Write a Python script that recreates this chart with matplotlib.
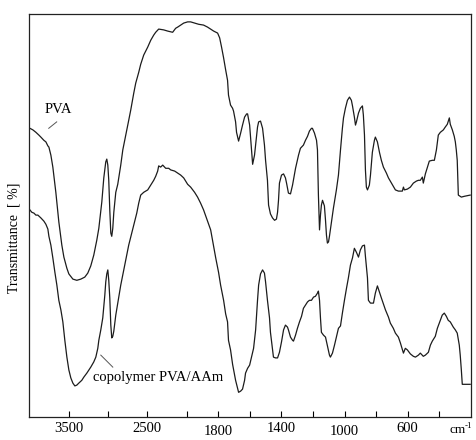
"""
FTIR spectra: PVA vs copolymer PVA/AAm (recreated figure).
"""

import numpy as np
import matplotlib
matplotlib.use("Agg")
import matplotlib.pyplot as plt

plt.rcParams["font.family"] = ["Liberation Serif", "DejaVu Serif"]

# ── data: wavenumber (cm-1) and transmittance (arb. %) ──────────────────────
pva_wn = [3990, 3952, 3914, 3876, 3851, 3813, 3787, 3762, 3749, 3724,
          3699, 3661, 3623, 3585, 3559, 3521, 3496, 3445, 3395, 3344,
          3294, 3256, 3218, 3180, 3142, 3116, 3078, 3053, 3028, 3015,
          3002, 2990, 2977, 2964, 2952, 2939, 2926, 2901, 2876, 2838,
          2812, 2774, 2737, 2711, 2673, 2648, 2610, 2585, 2547, 2496,
          2458, 2420, 2395, 2357, 2294, 2243, 2180, 2142, 2116, 2078,
          2040, 1995, 1976, 1951, 1925, 1894, 1869, 1849, 1830, 1805,
          1792, 1780, 1767, 1754, 1742, 1736, 1723, 1710, 1704, 1691,
          1685, 1672, 1659, 1647, 1634, 1621, 1615, 1602, 1590, 1583,
          1571, 1564, 1552, 1545, 1533, 1520, 1508, 1501, 1489, 1482,
          1470, 1457, 1444, 1432, 1425, 1419, 1413, 1400, 1387, 1375,
          1368, 1356, 1343, 1330, 1311, 1292, 1280, 1261, 1248, 1235,
          1223, 1210, 1204, 1191, 1178, 1172, 1166, 1159, 1153, 1147,
          1140, 1128, 1121, 1115, 1109, 1102, 1096, 1083, 1071, 1052,
          1039, 1026, 1014, 1007, 995, 982, 969, 957, 950, 938,
          931, 925, 912, 900, 887, 881, 874, 868, 862, 855,
          843, 836, 824, 811, 805, 792, 779, 767, 754, 735,
          722, 703, 678, 659, 634, 627, 621, 602, 583, 564,
          545, 532, 520, 507, 501, 488, 475, 463, 444, 431,
          418, 406, 393, 374, 362, 349, 336, 330, 317, 305,
          298, 292, 286, 279, 260, 241, 204]
pva_t = [72.2, 71.8, 71.2, 70.5, 70.0, 69.2, 68.8, 67.8, 67.5, 65.5,
         62.5, 56.2, 48.8, 43.0, 40.0, 37.2, 35.8, 34.5, 34.2, 34.5,
         35.0, 36.0, 37.8, 40.5, 44.2, 47.2, 53.8, 59.8, 63.8, 64.5,
         63.0, 59.2, 51.8, 46.0, 45.2, 47.2, 51.2, 56.2, 58.2, 63.0,
         66.8, 70.5, 74.2, 76.8, 81.0, 83.5, 86.2, 88.2, 90.5, 92.5,
         94.2, 95.5, 96.2, 97.0, 96.8, 96.5, 96.2, 97.2, 97.5, 98.0,
         98.5, 98.8, 98.8, 98.5, 98.2, 98.0, 97.5, 97.0, 96.5, 96.0,
         94.8, 92.5, 89.8, 86.8, 84.2, 80.5, 78.0, 77.2, 76.5, 73.8,
         71.2, 69.0, 71.0, 73.0, 75.0, 75.8, 75.8, 73.0, 66.8, 63.2,
         65.5, 68.0, 72.5, 73.8, 74.0, 72.2, 68.0, 64.2, 59.2, 53.0,
         50.8, 49.8, 49.2, 49.5, 51.2, 54.2, 58.5, 60.5, 60.8, 59.8,
         58.5, 56.0, 55.8, 58.0, 62.2, 65.5, 67.2, 68.0, 69.2, 70.2,
         71.5, 72.2, 72.2, 71.0, 69.2, 66.8, 55.5, 46.8, 50.5, 53.0,
         54.2, 52.8, 49.2, 45.5, 43.5, 43.8, 45.2, 48.8, 52.2, 56.8,
         60.5, 66.8, 72.2, 74.8, 77.2, 79.2, 80.0, 79.2, 77.8, 75.0,
         73.0, 73.8, 76.0, 77.2, 77.8, 75.5, 70.5, 61.8, 57.5, 56.8,
         58.0, 60.5, 66.2, 69.2, 70.0, 68.8, 66.2, 64.2, 62.5, 61.0,
         59.8, 58.5, 56.8, 56.5, 56.5, 57.5, 56.8, 57.0, 57.5, 58.5,
         59.0, 59.2, 59.2, 60.0, 58.5, 60.8, 62.5, 64.0, 64.2, 64.2,
         66.8, 70.5, 71.2, 71.8, 72.5, 73.2, 74.8, 73.2, 71.8, 70.2,
         68.8, 66.8, 64.2, 55.5, 55.0, 55.2, 55.5]

copo_wn = [3990, 3965, 3939, 3914, 3889, 3851, 3813, 3787, 3762, 3749,
           3724, 3699, 3673, 3648, 3623, 3597, 3572, 3547, 3521, 3496,
           3471, 3445, 3420, 3395, 3370, 3332, 3306, 3268, 3218, 3180,
           3154, 3129, 3116, 3091, 3066, 3040, 3028, 3015, 3002, 2990,
           2977, 2964, 2952, 2939, 2926, 2901, 2876, 2863, 2838, 2800,
           2762, 2737, 2699, 2673, 2635, 2610, 2585, 2547, 2496, 2458,
           2420, 2395, 2370, 2357, 2332, 2306, 2268, 2230, 2205, 2154,
           2116, 2078, 2040, 1995, 1976, 1951, 1932, 1913, 1894, 1869,
           1849, 1837, 1817, 1799, 1786, 1767, 1754, 1742, 1736, 1723,
           1710, 1697, 1691, 1678, 1672, 1659, 1647, 1634, 1628, 1615,
           1602, 1590, 1577, 1564, 1558, 1552, 1545, 1533, 1520, 1508,
           1501, 1489, 1476, 1470, 1457, 1451, 1438, 1425, 1413, 1400,
           1387, 1375, 1362, 1356, 1343, 1330, 1324, 1311, 1299, 1286,
           1273, 1261, 1248, 1235, 1223, 1210, 1197, 1185, 1172, 1166,
           1159, 1153, 1147, 1134, 1121, 1109, 1096, 1090, 1077, 1064,
           1052, 1039, 1026, 1014, 1001, 988, 976, 963, 950, 938,
           925, 912, 900, 887, 874, 868, 855, 849, 836, 817,
           805, 792, 779, 767, 741, 722, 710, 691, 678, 659,
           646, 627, 615, 602, 583, 564, 551, 532, 520, 501,
           488, 469, 456, 444, 425, 412, 393, 381, 368, 355,
           343, 330, 311, 298, 286, 273, 267, 260, 254, 235,
           204]
copo_t = [51.8, 51.2, 51.0, 50.5, 50.5, 49.8, 49.0, 48.2, 47.0, 45.2,
          43.0, 39.8, 36.2, 33.0, 29.2, 26.8, 23.8, 19.2, 15.0, 11.8,
          9.8, 8.5, 7.8, 8.0, 8.5, 9.2, 10.0, 11.0, 12.5, 13.8,
          15.0, 17.2, 19.2, 21.8, 24.8, 30.5, 33.8, 35.8, 36.8, 34.2,
          29.8, 23.0, 19.8, 20.2, 21.5, 25.5, 28.5, 30.2, 33.0, 36.8,
          40.5, 43.0, 46.0, 48.0, 51.0, 53.5, 55.5, 56.2, 56.8, 58.0,
          59.2, 60.2, 61.5, 62.8, 62.5, 63.0, 62.2, 62.2, 61.8, 61.5,
          61.0, 60.5, 59.8, 58.2, 57.5, 56.2, 55.0, 53.5, 51.8, 49.0,
          46.8, 44.2, 39.8, 36.2, 33.0, 29.2, 25.8, 23.8, 19.2, 16.8,
          13.2, 10.5, 9.2, 7.2, 6.2, 6.5, 7.0, 9.2, 11.0, 12.2,
          13.0, 15.0, 17.2, 21.8, 25.5, 29.2, 33.0, 35.8, 36.8, 36.0,
          33.8, 29.2, 24.8, 21.2, 16.8, 15.0, 14.8, 14.8, 16.2, 18.8,
          21.8, 23.0, 22.5, 21.8, 20.0, 19.2, 19.0, 20.5, 22.2, 23.8,
          25.2, 27.2, 28.0, 28.8, 29.2, 29.2, 30.0, 30.2, 31.0, 31.5,
          29.2, 24.8, 21.2, 20.5, 20.0, 17.8, 15.5, 15.0, 16.0, 18.0,
          20.0, 22.2, 22.8, 26.0, 29.2, 32.2, 34.8, 38.0, 39.8, 42.2,
          41.2, 40.0, 41.8, 42.8, 43.0, 40.2, 34.8, 29.2, 28.5, 28.5,
          31.0, 32.8, 31.2, 29.8, 26.8, 25.0, 23.5, 22.2, 21.0, 20.0,
          18.5, 16.0, 17.2, 16.8, 15.8, 15.2, 15.0, 15.5, 16.0, 15.2,
          15.5, 16.2, 18.0, 19.0, 20.2, 22.2, 24.2, 25.5, 26.0, 25.2,
          24.2, 23.8, 22.5, 21.8, 21.0, 18.0, 15.5, 11.8, 8.2, 8.2,
          8.2]

major_ticks = [3500, 2500, 1800, 1400, 1000, 600]
minor_ticks = [3000, 2000, 1600, 1200, 800, 400]


# spectrometer axis: scale halves above 2000 cm-1
def fwd(w):
    w = np.asarray(w, float)
    return np.where(w >= 2000, w / 2 + 1000, w)


def inv(p):
    p = np.asarray(p, float)
    return np.where(p >= 2000, (p - 1000) * 2, p)


fig = plt.figure(figsize=(4.77, 4.40), dpi=100)
ax = fig.add_axes([0.061, 0.052, 0.926, 0.916])
ax.set_xscale("function", functions=(fwd, inv))

LINE = "#1c1c1c"
ax.plot(pva_wn, pva_t, color=LINE, lw=0.9)
ax.plot(copo_wn, copo_t, color=LINE, lw=0.9)

ax.set_xlim(4000, 200)
ax.set_ylim(0, 100.75)

ax.set_xticks(major_ticks)
ax.set_xticklabels([str(t) for t in major_ticks])
ax.set_xticks(minor_ticks, minor=True)
ax.tick_params(axis="x", which="both", direction="in", length=4.5,
               width=0.8, pad=3.5, labelsize=10.5)
ax.set_yticks([])
# 1800 and 1000 sit a touch lower in the original
for lbl in ax.get_xticklabels():
    if lbl.get_text() in ("1800", "1000"):
        lbl.set_y(-0.008)

for s in ax.spines.values():
    s.set_linewidth(0.9)
    s.set_color("#222222")

ax.set_ylabel("Transmittance  [ %]", fontsize=10)
ax.yaxis.set_label_coords(-0.019, 0.444)

# unit label: "cm" with a small superscript "-1", kept inside the canvas
ax.text(0.951, -0.032, "cm", transform=ax.transAxes,
        fontsize=9.5, ha="left", va="center")
ax.text(0.987, -0.022, "-1", transform=ax.transAxes,
        fontsize=6.5, ha="left", va="center")

# curve labels with short leader lines
ax.text(3623, 76.8, "PVA", fontsize=10.5, ha="center", va="center")
ax.plot([3751, 3650], [72.2, 73.8], color="#555555", lw=0.7)
ax.text(3192, 9.8, "copolymer PVA/AAm", fontsize=10.5, ha="left", va="center")
ax.plot([3091, 2939], [15.5, 12.5], color="#555555", lw=0.7)

fig.savefig("out.png", dpi=100)
